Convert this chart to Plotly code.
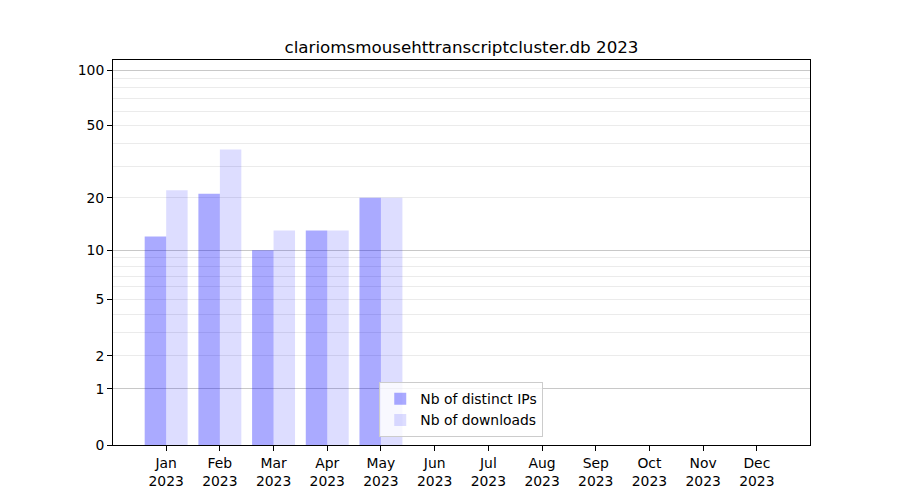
import numpy as np
import plotly.graph_objects as go

months = ["Jan", "Feb", "Mar", "Apr", "May", "Jun", "Jul", "Aug", "Sep", "Oct", "Nov", "Dec"]
year = "2023"
ips = [12, 21, 10, 13, 20, 0, 0, 0, 0, 0, 0, 0]
downloads = [22, 37, 13, 13, 20, 0, 0, 0, 0, 0, 0, 0]
ytick_labels = [0, 1, 2, 5, 10, 20, 50, 100]
major_grid = [1, 10, 100]
minor_grid = [2, 3, 4, 5, 6, 7, 8, 9, 20, 30, 40, 50, 60, 70, 80, 90]
title = "clariomsmousehttranscriptcluster.db 2023"


def f(v):
    return np.log10(np.asarray(v, dtype=float) + 1)


xlabels = [f"{m}<br>{year}" for m in months]
xpos = list(range(len(months)))

fig = go.Figure()
fig.add_trace(go.Bar(x=xpos, y=f(ips), name="Nb of distinct IPs",
                     marker=dict(color="rgba(0,0,255,0.333)", line=dict(width=0)),
                     hoverinfo="skip"))
fig.add_trace(go.Bar(x=xpos, y=f(downloads), name="Nb of downloads",
                     marker=dict(color="rgba(0,0,255,0.133)", line=dict(width=0)),
                     hoverinfo="skip"))
fig.add_trace(go.Scatter(x=[None], y=[None], yaxis="y2", showlegend=False, hoverinfo="skip"))

yrange = [0, 2.058]
fig.update_layout(
    width=900, height=500,
    paper_bgcolor="white", plot_bgcolor="white",
    margin=dict(l=105, r=98, t=52, b=63),
    font=dict(family="DejaVu Sans", size=13.9, color="black"),
    title=dict(text=title, x=0.5, xref="paper", y=1, yref="paper", yanchor="bottom",
               pad=dict(b=7), font=dict(size=16.7, color="black")),
    barmode="group", bargap=0.2, bargroupgap=0,
    showlegend=True,
    legend=dict(x=0.382, y=0.02, xanchor="left", yanchor="bottom",
                bgcolor="rgba(255,255,255,0.8)", bordercolor="#cccccc", borderwidth=1,
                font=dict(size=13.9), tracegroupgap=0),
    xaxis=dict(range=[-0.99, 11.99], tickmode="array", tickvals=xpos, ticktext=xlabels,
               showgrid=False, zeroline=False, showline=True, linecolor="black", linewidth=1,
               mirror=True, ticks="outside", ticklen=5, tickcolor="black"),
    yaxis=dict(range=yrange, tickmode="array", tickvals=f(ytick_labels),
               ticktext=[str(t) for t in ytick_labels], showgrid=False, zeroline=False,
               showline=True, linecolor="black", linewidth=1, mirror=True,
               ticks="outside", ticklen=5, tickcolor="black",
               minor=dict(tickmode="array", tickvals=f(minor_grid), showgrid=True,
                          gridcolor="#ebebeb", gridwidth=1, ticks="")),
    yaxis2=dict(range=yrange, overlaying="y", side="right", tickmode="array",
                tickvals=f(major_grid), showticklabels=False, ticks="",
                showgrid=True, gridcolor="#c8c8c8", gridwidth=1, zeroline=False,
                showline=False),
)

fig.write_html("out.html")
